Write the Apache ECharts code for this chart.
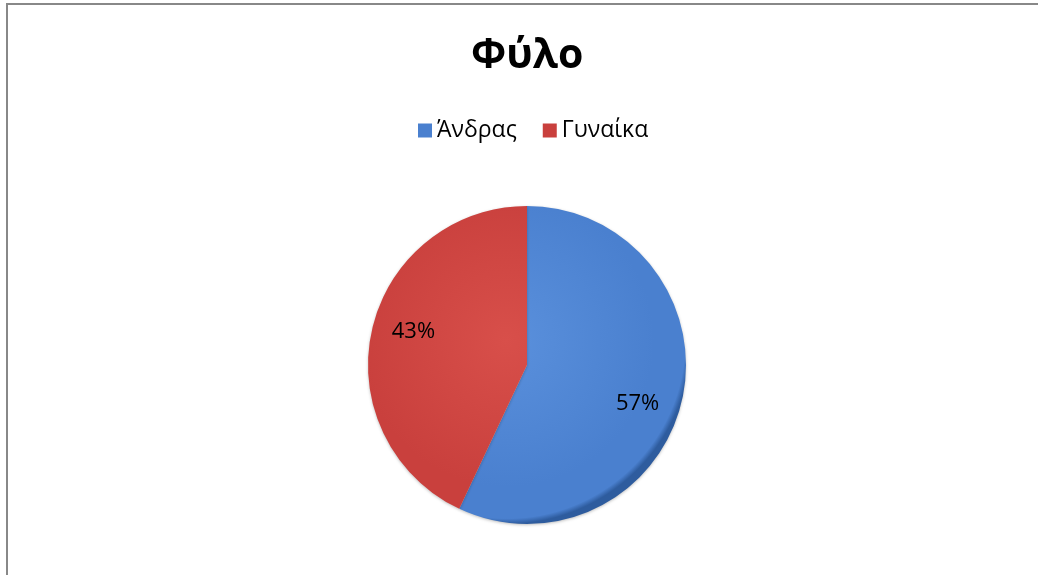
<!DOCTYPE html>
<html><head><meta charset="utf-8">
<script src="https://cdn.jsdelivr.net/npm/echarts@6/dist/echarts.min.js"></script>
<style>html,body{margin:0;padding:0;background:#fff}#c{width:1038px;height:575px}</style>
</head><body><div id="c"></div>
<script>
const titleText = 'Φύλο';
const categories = ['Άνδρας', 'Γυναίκα'];
const values = [57, 43];
const colors = ['#4a80cf', '#c9403d'];
const lights = ['#5a90dc', '#d84f4a'];
const darks = ['#2e5c9e', '#9c2e2b'];
const labelShift = [[-8, 12], [5, -7]];

const CX = 527, CY = 365, R = 159;
const chart = echarts.init(document.getElementById('c'));
const data = categories.map((n, i) => ({
  name: n, value: values[i],
  itemStyle: {
    color: new echarts.graphic.RadialGradient(CX - 20, CY - 25, R + 25, [
      {offset: 0, color: lights[i]},
      {offset: 0.8, color: colors[i]},
      {offset: 0.97, color: colors[i]},
      {offset: 1, color: darks[i]}
    ], true)
  }
}));
chart.setOption({
  animation: false,
  title: {
    text: titleText, left: 466, top: 31,
    textStyle: {fontFamily: 'Open Sans', fontWeight: 'bold', fontSize: 41, color: '#000'}
  },
  legend: {
    data: categories.map((n, i) => ({name: n, itemStyle: {color: colors[i]}})),
    top: 114, left: 413, itemGap: 26,
    itemWidth: 14, itemHeight: 14, icon: 'rect',
    textStyle: {fontFamily: 'Open Sans', fontSize: 23, color: '#000'}
  },
  graphic: [{
    type: 'rect', shape: {x: 7, y: 4, width: 1040, height: 580},
    style: {fill: 'none', stroke: '#888', lineWidth: 2}, silent: true
  }],
  series: [{
    type: 'pie', center: [CX, CY], radius: [0, R],
    startAngle: 90, clockwise: true,
    label: {show: false}, labelLine: {show: false},
    itemStyle: {shadowBlur: 3, shadowColor: 'rgba(0,0,0,0.25)', shadowOffsetY: 1},
    emphasis: {disabled: true},
    data: data
  }, {
    type: 'pie', center: [CX, CY], radius: [78, R],
    startAngle: 90, clockwise: true, silent: true,
    itemStyle: {color: 'rgba(0,0,0,0)'},
    label: {show: true, position: 'inside', formatter: '{c}%',
      fontFamily: 'Open Sans', fontSize: 22, color: '#000'},
    labelLine: {show: false},
    labelLayout: p => ({dx: labelShift[p.dataIndex][0], dy: labelShift[p.dataIndex][1]}),
    emphasis: {disabled: true},
    data: categories.map((n, i) => ({name: n, value: values[i]}))
  }]
});
</script></body></html>
